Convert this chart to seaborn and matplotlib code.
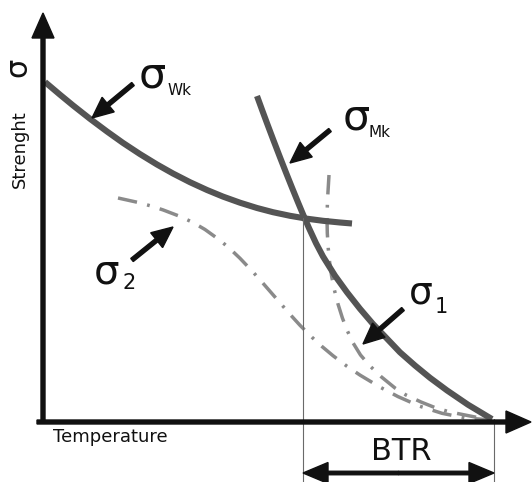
import numpy as np
import pandas as pd
import matplotlib
matplotlib.use("Agg")
import matplotlib.pyplot as plt
import seaborn as sns

# ---- data (chart units: temperature, strength; origin at axes corner) ----
wk_t = [2, 17, 30, 47, 64, 80, 97, 114, 130, 147, 164, 180, 197, 214, 230, 247, 264, 280, 297, 309]
wk_s = [340, 327.3, 316.6, 303.2, 290.5, 279.1, 267.9, 257.5, 248.5, 239.8, 232.0, 225.4,
        219.3, 214.0, 209.8, 206.2, 203.3, 201.2, 199.5, 198.5]

mk_t = [214, 219, 224, 230, 237, 243, 249, 255, 260, 266, 273, 280, 292, 304, 317, 330, 343, 357, 372, 387, 404, 425, 449]
mk_s = [326, 312.3, 298.8, 282.9, 264.7, 249.4, 234.4, 219.7, 207.7, 193.9, 178.8, 165.5,
        146.3, 129.7, 113.2, 98.0, 84.4, 69.7, 56.5, 44.2, 31.6, 17.3, 2.9]

s1_t = [286, 284.5, 284, 284.3, 285.2, 286.6, 288.6, 291.4, 295, 299.4, 304, 309.5, 317.5, 327,
        338.5, 352, 363, 378, 393, 407, 422, 437, 449]
s1_s = [247, 222, 204, 189, 174, 160, 146, 132, 118, 104, 92, 80, 67, 56, 45, 34, 27, 20, 14, 10, 7, 4, 3]

s2_t = [75, 94, 107, 120, 137, 150, 162, 177, 187, 197, 210, 219, 229, 239, 247, 257, 269, 279,
        290, 304, 317, 337, 355, 377, 399, 422, 449]
s2_s = [224, 219.8, 216.3, 212.1, 205.6, 199.5, 192.5, 181.7, 173.2, 163.7, 150.0, 139.9, 128.4,
        116.9, 107.7, 96.7, 84.7, 75.5, 66.3, 55.7, 46.9, 34.9, 25.4, 15.7, 8.7, 4.1, 1.9]

btr_start = 260
btr_end = 451

sns.set_theme(style="white")
plt.rcParams['font.family'] = ['DejaVu Sans']

fig = plt.figure(figsize=(5.32, 4.82), dpi=100)
ax = fig.add_axes([0, 0, 1, 1])
ax.set_xlim(-43, 489)
ax.set_ylim(-60, 422)
ax.axis('off')

dark = '#545454'
light = '#8a8a8a'
dashdot = (0, (5.6, 3.0, 0.8, 3.0))

df_wk = pd.DataFrame({'T': wk_t, 'S': wk_s})
df_mk = pd.DataFrame({'T': mk_t, 'S': mk_s})
df_s1 = pd.DataFrame({'T': s1_t, 'S': s1_s})
df_s2 = pd.DataFrame({'T': s2_t, 'S': s2_s})

sns.lineplot(data=df_s2, x='T', y='S', sort=False, estimator=None, ax=ax,
             color=light, lw=2.5, linestyle=dashdot)
sns.lineplot(data=df_s1, x='T', y='S', sort=False, estimator=None, ax=ax,
             color=light, lw=2.5, linestyle=dashdot)
sns.lineplot(data=df_wk, x='T', y='S', sort=False, estimator=None, ax=ax,
             color=dark, lw=4.4, solid_capstyle='butt', solid_joinstyle='round')
sns.lineplot(data=df_mk, x='T', y='S', sort=False, estimator=None, ax=ax,
             color=dark, lw=4.4, solid_capstyle='butt', solid_joinstyle='round')

# thin vertical guide lines
cross_s = float(np.interp(btr_start, wk_t, wk_s))
ax.plot([btr_start, btr_start], [cross_s, -60], color='#6a6a6a', lw=0.8)
ax.plot([btr_end, btr_end], [3, -60], color='#6a6a6a', lw=0.8)

# axes with arrows
ax.arrow(0, -1, 0, 410, width=4, head_width=22, head_length=25,
         length_includes_head=True, color='#111111', zorder=5)
ax.arrow(-6, 0, 494, 0, width=4, head_width=22, head_length=25,
         length_includes_head=True, color='#111111', zorder=5)

# BTR double arrow
mid = (btr_start + btr_end) / 2
for end in (btr_start, btr_end):
    ax.arrow(mid, -51, end - mid, 0, width=3.5, head_width=21, head_length=25,
             length_includes_head=True, color='#111111', zorder=5)
ax.text(mid + 3, -30, 'BTR', fontsize=22, ha='center', va='center', color='#111111')

# label arrows
label_arrows = [((90, 338), (49, 304)),
                ((287, 292), (247, 259)),
                ((89, 162), (130, 195)),
                ((360, 113), (320, 78))]
for (x0, y0), (x1, y1) in label_arrows:
    ax.arrow(x0, y0, x1 - x0, y1 - y0, width=4, head_width=19, head_length=21,
             length_includes_head=True, color='#111111', zorder=6)

# sigma labels
tc = '#111111'
ax.text(109, 334, 'σ', fontsize=31, ha='center', va='baseline', color=tc)
ax.text(124, 327, 'Wk', fontsize=11, ha='left', va='baseline', color=tc)
ax.text(313, 292, 'σ', fontsize=31, ha='center', va='baseline', color=tc)
ax.text(325, 285, 'Mk', fontsize=11, ha='left', va='baseline', color=tc)
ax.text(64, 139, 'σ', fontsize=29, ha='center', va='baseline', color=tc)
ax.text(79, 133, '2', fontsize=15, ha='left', va='baseline', color=tc)
ax.text(378, 118, 'σ', fontsize=27, ha='center', va='baseline', color=tc)
ax.text(392, 109, '1', fontsize=15, ha='left', va='baseline', color=tc)

# axis labels
ax.text(-25, 355, 'σ', fontsize=22, rotation=90, ha='center', va='center', color=tc)
ax.text(-23, 273, 'Strenght', fontsize=13, rotation=90, ha='center', va='center', color=tc)
ax.text(67, -15, 'Temperature', fontsize=13, ha='center', va='center', color=tc)

fig.savefig('out.png', dpi=100, facecolor='white')
